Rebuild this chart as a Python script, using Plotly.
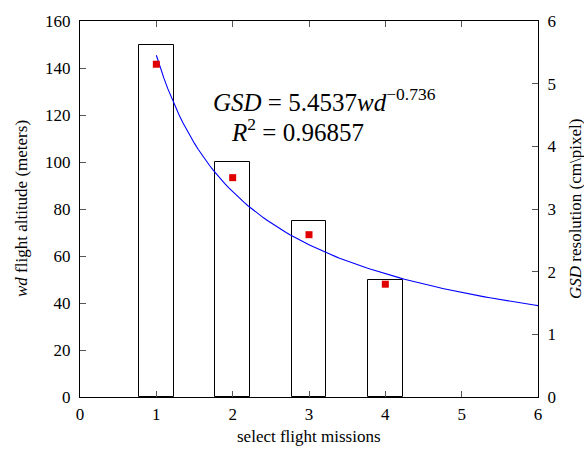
import plotly.graph_objects as go

missions = [1, 2, 3, 4]
altitude_m = [150, 100, 75, 50]
gsd_measured = [5.31, 3.50, 2.59, 1.80]

fit_a = 5.4537
fit_b = -0.736
fit_x = [1 + i * 0.05 for i in range(101)]
fit_y = [fit_a * x ** fit_b for x in fit_x]

x_ticks = [0, 1, 2, 3, 4, 5, 6]
y1_ticks = [0, 20, 40, 60, 80, 100, 120, 140, 160]
y2_ticks = [0, 1, 2, 3, 4, 5, 6]

FONT = "Liberation Serif"

W, H = 584, 450
L, R, T, B = 80, 46, 15, 53
PW, PH = W - L - R, H - T - B


def px(xp):
    return (xp - L) / PW


def py(yp):
    return 1 - (yp - T) / PH


fig = go.Figure()
fig.add_trace(go.Bar(
    x=missions, y=altitude_m, width=0.45,
    marker=dict(color="rgba(255,255,255,0)", line=dict(color="black", width=1)),
    yaxis="y", showlegend=False,
))
fig.add_trace(go.Scatter(
    x=fit_x, y=fit_y, mode="lines", line=dict(color="blue", width=1.1),
    yaxis="y2", showlegend=False,
))
fig.add_trace(go.Scatter(
    x=missions, y=gsd_measured, mode="markers",
    marker=dict(symbol="square", size=7, color="#e00000"),
    yaxis="y2", showlegend=False,
))

axis_common = dict(showgrid=False, zeroline=False, linecolor="black", linewidth=1,
                   ticks="inside", ticklen=6, tickcolor="#555", tickwidth=1,
                   tickfont=dict(family=FONT, size=17, color="black"))


def ann(text, x, y, size, angle=0):
    return dict(text=text, x=px(x), y=py(y), xref="paper", yref="paper",
                xanchor="center", yanchor="middle", showarrow=False,
                textangle=angle, font=dict(family=FONT, size=size, color="black"))


fig.update_layout(
    width=W, height=H,
    margin=dict(l=L, r=R, t=T, b=B),
    plot_bgcolor="white", paper_bgcolor="white",
    font=dict(family=FONT),
    xaxis=dict(range=[0, 6], tickvals=x_ticks, mirror="ticks", showline=True,
               ticklabelstandoff=2, **axis_common),
    yaxis=dict(range=[0, 160], tickvals=y1_ticks, showline=True,
               ticklabelstandoff=5, **axis_common),
    yaxis2=dict(range=[0, 6], tickvals=y2_ticks, overlaying="y", side="right",
                showline=True, ticklabelstandoff=5, **axis_common),
    bargap=0,
    annotations=[
        ann("<i>GSD</i> = 5.4537<i>wd</i><sup>−0.736</sup>", 324, 95, 25),
        ann("<i>R</i><sup>2</sup> = 0.96857", 297, 126, 25),
        ann("select flight missions", 309, 437, 17),
        ann("<i>wd</i> flight altitude (meters)", 21, 206, 17, -90),
        ann("<i>GSD</i> resolution (cm\\pixel)", 575, 206, 17, -90),
    ],
)

fig.write_html("out.html")
